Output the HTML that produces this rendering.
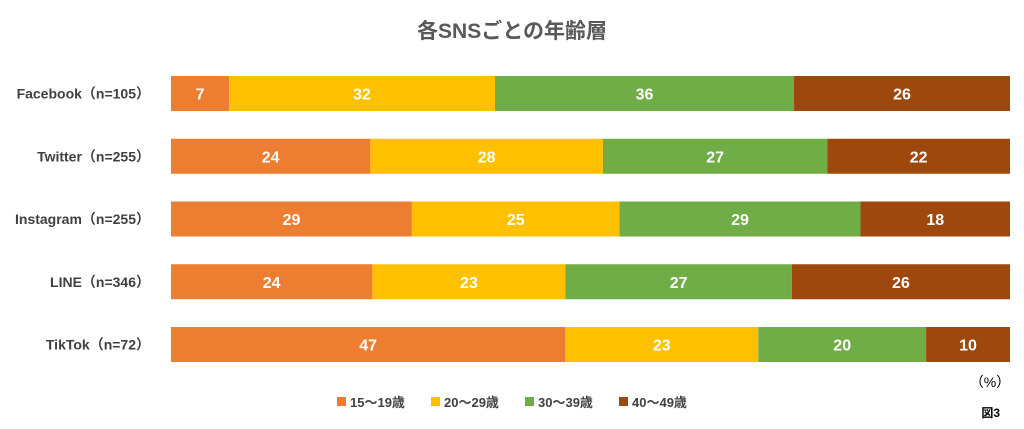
<!DOCTYPE html>
<html><head><meta charset="utf-8">
<style>
body{margin:0;background:#fff;font-family:"Liberation Sans","Noto Sans CJK JP",sans-serif;}
svg text{font-family:"Liberation Sans","Noto Sans CJK JP",sans-serif;}
</style></head>
<body>
<svg width="1024" height="424" viewBox="0 0 1024 424" id="chart">
<text x="512" y="38" text-anchor="middle" font-size="21" font-weight="bold" fill="#595959">各SNSごとの年齢層</text>
<g id="bars"></g>
<text x="990" y="387" text-anchor="middle" font-size="14" fill="#000">（%）</text>
<g id="legend"></g>
<text x="1000" y="417" text-anchor="end" font-size="12" font-weight="bold" fill="#000">図3</text>
</svg>
<script>
const categories=["Facebook（n=105）","Twitter（n=255）","Instagram（n=255）","LINE（n=346）","TikTok（n=72）"];
const seriesNames=["15～19歳","20～29歳","30～39歳","40～49歳"];
const s1519=[7,24,29,24,47];
const s2029=[32,28,25,23,23];
const s3039=[36,27,29,27,20];
const s4049=[26,22,18,26,10];
const colors=["#ED7D31","#FFC000","#70AD47","#9E480E"];
const NS="http://www.w3.org/2000/svg";
const x0=171,x1=1010,rowTop=76,rowStep=62.75,barH=35;
const series=[s1519,s2029,s3039,s4049];
const g=document.getElementById('bars');
function xScale(v,total){return (v/total)*(x1-x0);}
categories.forEach((c,i)=>{
  const y=rowTop+i*rowStep;
  const lab=document.createElementNS(NS,'text');
  
  
  lab.setAttribute('x',150);lab.setAttribute('y',y+barH/2+5);
  lab.setAttribute('text-anchor','end');lab.setAttribute('font-size','14');
  lab.setAttribute('font-weight','bold');lab.setAttribute('fill','#404040');
  lab.textContent=c;g.appendChild(lab);
  let total=0;series.forEach(s=>total+=s[i]);
  let acc=0;
  series.forEach((s,j)=>{
    const v=s[i];
    const xs=x0+xScale(acc,total),w=xScale(v,total);
    const r=document.createElementNS(NS,'rect');
    
    
    r.setAttribute('x',xs);r.setAttribute('y',y);r.setAttribute('width',w);r.setAttribute('height',barH);
    r.setAttribute('fill',colors[j]);g.appendChild(r);
    const t=document.createElementNS(NS,'text');
    
    
    t.setAttribute('x',xs+w/2);t.setAttribute('y',y+barH/2+6);
    t.setAttribute('text-anchor','middle');t.setAttribute('font-size','16');
    t.setAttribute('font-weight','bold');t.setAttribute('fill','#fff');
    t.textContent=v;g.appendChild(t);
    acc+=v;
  });
});
const lg=document.getElementById('legend');
const lx=[337,431,525,619];
seriesNames.forEach((n,j)=>{
  const r=document.createElementNS(NS,'rect');
  
  
  r.setAttribute('x',lx[j]);r.setAttribute('y',397);r.setAttribute('width',9);r.setAttribute('height',9);
  r.setAttribute('fill',colors[j]);lg.appendChild(r);
  const t=document.createElementNS(NS,'text');
  
  
  t.setAttribute('x',lx[j]+13);t.setAttribute('y',407);
  t.setAttribute('font-size','13');t.setAttribute('font-weight','bold');t.setAttribute('fill','#404040');
  t.textContent=n;lg.appendChild(t);
});
</script>
</body></html>
